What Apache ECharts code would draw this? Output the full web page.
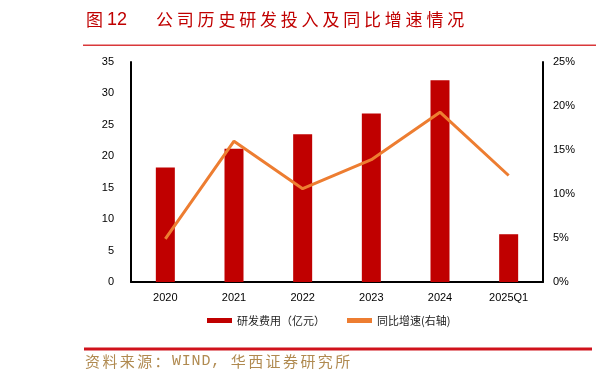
<!DOCTYPE html>
<html><head><meta charset="utf-8">
<script src="https://cdn.jsdelivr.net/npm/echarts@6/dist/echarts.min.js"></script>
<style>html,body{margin:0;padding:0;background:#fff}#c{width:596px;height:380px}</style>
</head><body><div id="c"></div>
<script>
var categories = ['2020', '2021', '2022', '2023', '2024', '2025Q1'];
var rdExpense = [18.2, 21.2, 23.5, 26.8, 32.1, 7.6];
var yoyGrowth = [4.9, 16.0, 10.6, 13.9, 19.3, 12.1];
var leftTicks = [0, 5, 10, 15, 20, 25, 30, 35];
var rightTicks = [0, 5, 10, 15, 20, 25];
var seriesNames = ['研发费用（亿元）', '同比增速(右轴)'];
var titleFig = '图';
var titleNum = '12';
var titleText = '公司历史研发投入及同比增速情况';
var sourceText = '资料来源：WIND, 华西证券研究所';

function charRow(str, x0, yMid, size, cjkAdv, asciiAdv, color) {
  var out = [], x = x0;
  for (var i = 0; i < str.length; i++) {
    var ch = str[i];
    var ascii = ch.charCodeAt(0) < 128;
    if (ch !== ' ') {
      out.push({type: 'text', x: x, y: yMid, style: {text: ch, fontSize: size, fill: color,
        fontFamily: ascii ? 'Liberation Mono, DejaVu Sans Mono, monospace' : 'Noto Sans CJK SC',
        verticalAlign: 'middle'}});
    }
    x += ascii ? asciiAdv : cjkAdv;
  }
  return out;
}

var chart = echarts.init(document.getElementById('c'), null, {renderer: 'canvas'});
var axisFont = {color: '#000', fontSize: 11, fontFamily: 'Liberation Sans, Arial, sans-serif'};
var graphics = [
  {type: 'text', x: 86, y: 20, style: {text: titleFig, fontSize: 17, fill: '#C00000', fontFamily: 'Noto Sans CJK SC', verticalAlign: 'middle'}},
  {type: 'text', x: 107, y: 20, style: {text: titleNum, fontSize: 18, fill: '#C00000', fontFamily: 'Liberation Sans, Arial, sans-serif', verticalAlign: 'middle'}},
  {type: 'rect', shape: {x: 83, y: 44.5, width: 513, height: 1.5}, style: {fill: '#D9383A'}},
  {type: 'rect', shape: {x: 84, y: 347.5, width: 508, height: 3}, style: {fill: '#D0121B'}}
].concat(charRow(titleText, 156, 20, 17, 20.8, 10, '#C00000'))
 .concat(charRow(sourceText, 85, 361, 15, 17.4, 9.8, '#B08A50'));

chart.setOption({
  animation: false,
  grid: {left: 131, right: 53, top: 62, bottom: 98},
  legend: {
    top: 310, left: 202,
    itemWidth: 25, itemHeight: 5, itemGap: 22,
    icon: 'rect',
    textStyle: {fontSize: 11, color: '#222', fontFamily: 'Noto Sans CJK SC'},
    data: [{name: seriesNames[0], itemStyle: {color: '#C00000'}},
           {name: seriesNames[1], itemStyle: {color: '#ED7D31'}}]
  },
  xAxis: {
    type: 'category', data: categories,
    axisLine: {lineStyle: {color: '#000', width: 2}},
    axisTick: {show: false},
    axisLabel: Object.assign({margin: 10}, axisFont)
  },
  yAxis: [{
    type: 'value', min: leftTicks[0], max: leftTicks[leftTicks.length - 1], interval: 5,
    axisLine: {show: true, lineStyle: {color: '#000', width: 2}},
    axisTick: {show: false}, splitLine: {show: false},
    axisLabel: Object.assign({margin: 17}, axisFont)
  }, {
    type: 'value', min: rightTicks[0], max: rightTicks[rightTicks.length - 1], interval: 5,
    axisLine: {show: true, lineStyle: {color: '#000', width: 2}},
    axisTick: {show: false}, splitLine: {show: false},
    axisLabel: Object.assign({margin: 10, formatter: '{value}%'}, axisFont)
  }],
  series: [{
    name: seriesNames[0], type: 'bar', data: rdExpense, barWidth: 19,
    itemStyle: {color: '#C00000'}
  }, {
    name: seriesNames[1], type: 'line', yAxisIndex: 1, data: yoyGrowth,
    symbol: 'none', lineStyle: {color: '#ED7D31', width: 3},
    itemStyle: {color: '#ED7D31'}
  }],
  graphic: graphics
});
</script></body></html>
